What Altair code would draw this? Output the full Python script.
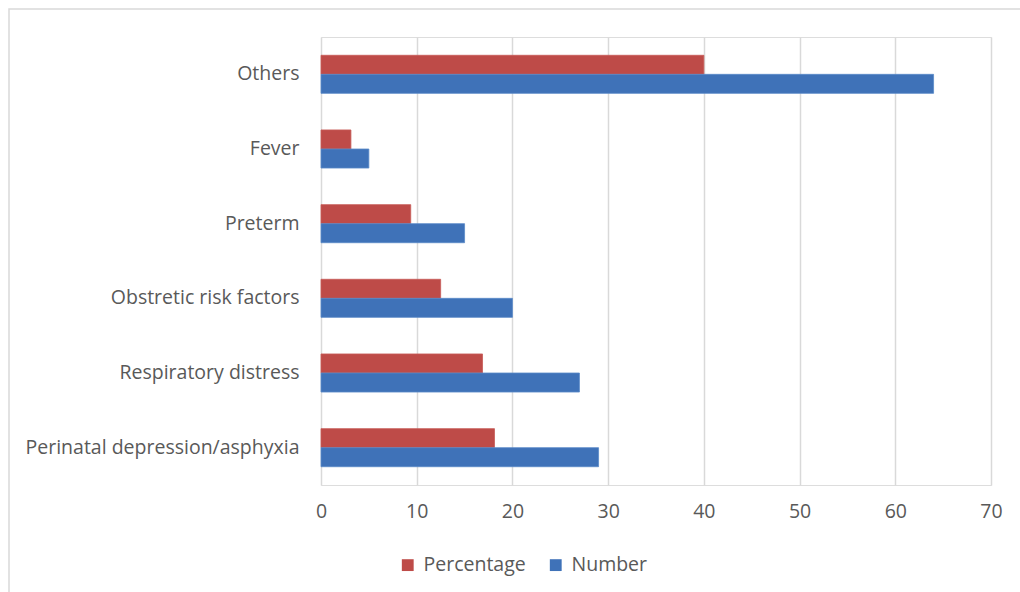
import altair as alt
import pandas as pd

categories = ["Others", "Fever", "Preterm", "Obstretic risk factors",
              "Respiratory distress", "Perinatal depression/asphyxia"]
series = ["Percentage", "Number"]
percentage = [40, 3.125, 9.375, 12.5, 16.875, 18.125]
number = [64, 5, 15, 20, 27, 29]
x_ticks = [0, 10, 20, 30, 40, 50, 60, 70]

rows = []
for c, p, n in zip(categories, percentage, number):
    rows.append({"cause": c, "series": "Percentage", "value": p})
    rows.append({"cause": c, "series": "Number", "value": n})
df = pd.DataFrame(rows)

FONT = "Open Sans"
GREY = "#595959"
FS = 19.5

bars = alt.Chart(df).mark_bar(strokeWidth=0.8).encode(
    y=alt.Y("cause:N", sort=categories, title=None,
            scale=alt.Scale(paddingInner=0.49, paddingOuter=0.245),
            axis=alt.Axis(domain=False, ticks=False, labelPadding=22,
                          labelFontSize=FS, labelColor=GREY, labelFont=FONT,
                          labelLimit=400)),
    yOffset=alt.YOffset("series:N", sort=series),
    x=alt.X("value:Q", title=None,
            scale=alt.Scale(domain=[0, 70]),
            axis=alt.Axis(values=x_ticks, domain=False, ticks=False,
                          grid=True, gridColor="#d9d9d9", gridWidth=1.5,
                          labelFlush=False,
                          labelPadding=17, labelFontSize=FS, labelColor=GREY,
                          labelFont=FONT)),
    color=alt.Color("series:N", sort=series,
                    scale=alt.Scale(domain=series, range=["#BE4B48", "#3F72B8"]),
                    legend=alt.Legend(title=None, orient="none",
                                      legendX=77, legendY=518,
                                      direction="horizontal", symbolType="square",
                                      symbolSize=140, labelFontSize=FS,
                                      labelColor=GREY, labelFont=FONT,
                                      labelOffset=6,
                                      columnPadding=20,
                                      symbolStrokeWidth=0)),
    stroke=alt.Stroke("series:N", sort=series,
                      scale=alt.Scale(domain=series, range=["#C65A57", "#5A8AC8"]),
                      legend=None),
)

frame = alt.Chart(pd.DataFrame({"a": [0]})).mark_rect(
    fill=None, stroke="#d9d9d9", strokeWidth=1.5
).encode(
    x=alt.value(-312), x2=alt.value(720),
    y=alt.value(-28), y2=alt.value(570),
)

chart = alt.layer(frame, bars).properties(
    width=670, height=448,
    autosize=alt.AutoSizeParams(type="none"),
    padding={"left": 321, "top": 37, "right": 29, "bottom": 107},
).configure_view(stroke=None).configure(background="white")

chart.save("out.html", embed_options={"renderer": "svg", "actions": False})
